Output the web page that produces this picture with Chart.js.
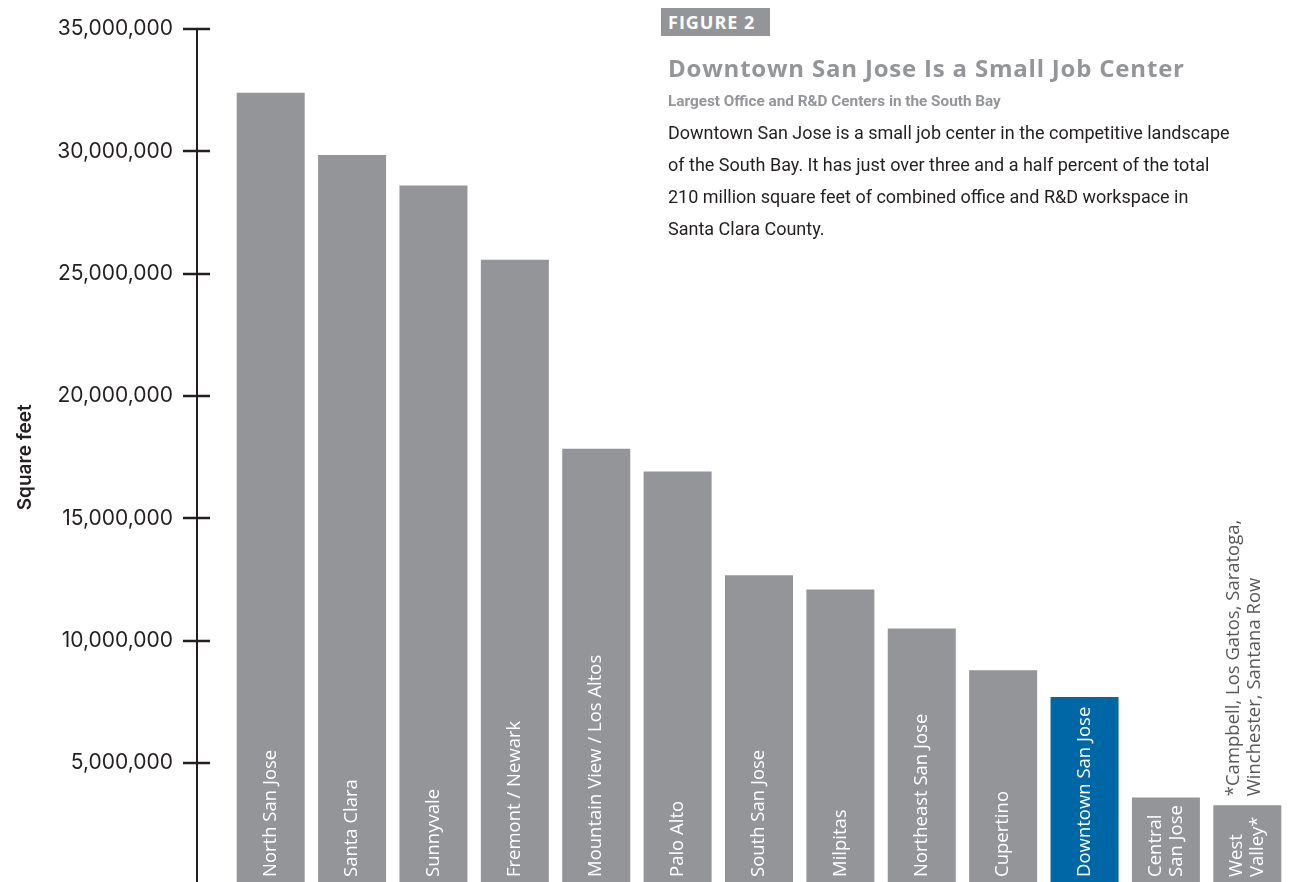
<!DOCTYPE html>
<html>
<head>
<meta charset="utf-8">
<script src="https://cdn.jsdelivr.net/npm/chart.js@4"></script>
<style>
  html, body { margin: 0; padding: 0; background: #fff; overflow: hidden; }
  #wrap { position: absolute; left: 0; top: 0; width: 1289px; height: 892px; }
  .fig { position: absolute; left: 661px; top: 8px; width: 109px; height: 28px; background: #939598;
         color: #fff; font: 700 18px "Open Sans", sans-serif; letter-spacing: 1px; line-height: 28px;
         box-sizing: border-box; padding-left: 7px; }
  .title { position: absolute; left: 668px; top: 51px; color: #939598; font: 700 24px "Open Sans", sans-serif;
           letter-spacing: 0.8px; white-space: nowrap; }
  .sub { position: absolute; left: 668px; top: 92px; color: #939598; font: 700 15.3px Roboto, sans-serif; white-space: nowrap; }
  .body { position: absolute; left: 668px; top: 117px; color: #231f20; font: 400 18px Roboto, sans-serif; line-height: 32px; white-space: nowrap; }
</style>
</head>
<body>
<div id="wrap"><canvas id="bars"></canvas></div>
<div class="fig">FIGURE 2</div>
<div class="title">Downtown San Jose Is a Small Job Center</div>
<div class="sub">Largest Office and R&amp;D Centers in the South Bay</div>
<div class="body">Downtown San Jose is a small job center in the competitive landscape<br>of the South Bay. It has just over three and a half percent of the total<br>210 million square feet of combined office and R&amp;D workspace in<br>Santa Clara County.</div>
<script>
const CENTERS = [
    'North San Jose', 'Santa Clara', 'Sunnyvale', 'Fremont / Newark',
    'Mountain View / Los Altos', 'Palo Alto', 'South San Jose', 'Milpitas',
    'Northeast San Jose', 'Cupertino', 'Downtown San Jose',
    ['Central', 'San Jose'], ['West', 'Valley*']
];
const SQUARE_FEET = [
    32400000, 29850000, 28600000, 25570000, 17850000, 16920000, 12680000,
    12100000, 10500000, 8800000, 7700000, 3600000, 3280000
];
const HIGHLIGHT = 'Downtown San Jose';
const FOOTNOTE = ['*Campbell, Los Gatos, Saratoga,', 'Winchester, Santana Row'];

const GRAY = '#939598';
const BLUE = '#0067a6';
const INK = '#231f20';

const barColors = CENTERS.map(c => c === HIGHLIGHT ? BLUE : GRAY);

// axis line with ticks crossing it, sitting left of the plot area
const axisPlugin = {
    id: 'axisLine',
    afterDraw(chart) {
        const ctx = chart.ctx;
        const y = chart.scales.y;
        const x0 = chart.chartArea.left - 33;
        ctx.save();
        ctx.strokeStyle = INK;
        ctx.lineWidth = 2;
        ctx.beginPath();
        ctx.moveTo(x0, y.getPixelForValue(y.max) - 1);
        ctx.lineTo(x0, chart.height);
        ctx.stroke();
        ctx.lineWidth = 2.5;
        y.ticks.forEach(t => {
            if (t.value === 0) return;
            const py = Math.round(y.getPixelForValue(t.value));
            ctx.beginPath();
            ctx.moveTo(x0 - 14, py);
            ctx.lineTo(x0 + 13, py);
            ctx.stroke();
        });
        ctx.restore();
    }
};

// names written up inside each bar, footnote above the last one
const barLabelPlugin = {
    id: 'barLabels',
    afterDatasetsDraw(chart) {
        const ctx = chart.ctx;
        const bars = chart.getDatasetMeta(0).data;
        const base = chart.chartArea.bottom - 8.5;
        ctx.save();
        ctx.font = '400 18.5px "Open Sans", sans-serif';
        ctx.textAlign = 'left';
        ctx.textBaseline = 'middle';
        bars.forEach((bar, i) => {
            const lines = [].concat(CENTERS[i]);
            ctx.fillStyle = '#ffffff';
            lines.forEach((line, j) => {
                const off = (j - (lines.length - 1) / 2) * 21;
                ctx.save();
                ctx.translate(bar.x + off, base);
                ctx.rotate(-Math.PI / 2);
                ctx.fillText(line, 0, 0);
                ctx.restore();
            });
        });
        const last = bars[bars.length - 1];
        ctx.fillStyle = '#58595b';
        FOOTNOTE.forEach((line, j) => {
            ctx.save();
            ctx.translate(last.x - 14 + j * 21, last.y - 9);
            ctx.rotate(-Math.PI / 2);
            ctx.fillText(line, 0, 0);
            ctx.restore();
        });
        ctx.restore();
    }
};

new Chart(document.getElementById('bars'), {
    type: 'bar',
    data: {
        labels: CENTERS,
        datasets: [{
            label: 'Square feet',
            data: SQUARE_FEET,
            backgroundColor: barColors,
            borderWidth: 0,
            categoryPercentage: 1,
            barPercentage: 0.8356
        }]
    },
    options: {
        responsive: true,
        maintainAspectRatio: false,
        animation: false,
        layout: { padding: { top: 29, bottom: 6.5, right: 1, left: 0 } },
        plugins: {
            legend: { display: false },
            tooltip: { enabled: false }
        },
        scales: {
            x: { display: false },
            y: {
                min: 0,
                max: 35000000,
                afterFit(scale) {
                    scale.width = 230;
                    // tick padding is horizontal here, keep it out of the vertical insets
                    scale.paddingTop = 12;
                    scale.paddingBottom = 0;
                },
                border: { display: false },
                grid: { display: false, drawTicks: false },
                ticks: {
                    stepSize: 5000000,
                    padding: 57,
                    color: INK,
                    font: { family: 'Inter', size: 21 },
                    callback: v => v === 0 ? '' : v.toLocaleString('en-US')
                },
                title: {
                    display: true,
                    text: 'Square feet',
                    color: INK,
                    font: { family: 'Inter', size: 19, weight: '600' },
                    padding: { top: 14, bottom: 0 }
                }
            }
        }
    },
    plugins: [axisPlugin, barLabelPlugin]
});
</script>
</body>
</html>
